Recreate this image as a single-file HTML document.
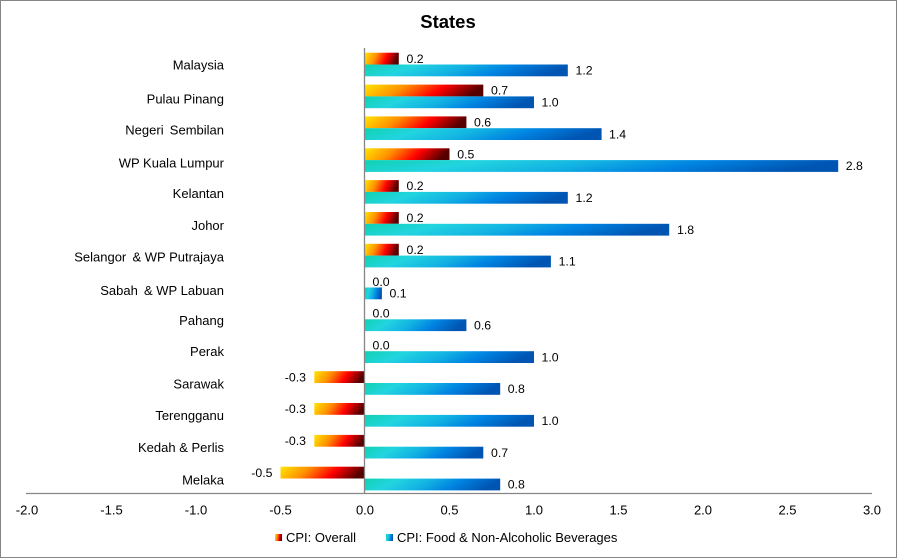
<!DOCTYPE html>
<html>
<head>
<meta charset="utf-8">
<style>
html,body{margin:0;padding:0;background:#fff;}
svg{display:block;}
text{font-family:"Liberation Sans",Arial,sans-serif;fill:#000;white-space:pre;}
</style>
</head>
<body>
<svg width="897" height="558" viewBox="0 0 897 558" xmlns="http://www.w3.org/2000/svg">
<defs>
<linearGradient id="gO" x1="0" y1="0" x2="1" y2="0.15">
<stop offset="0" stop-color="#ffe600"/>
<stop offset="0.35" stop-color="#ff9000"/>
<stop offset="0.68" stop-color="#ff0000"/>
<stop offset="1" stop-color="#560000"/>
</linearGradient>
<linearGradient id="gF" x1="0" y1="0" x2="1" y2="0.15">
<stop offset="0" stop-color="#10d2b2"/>
<stop offset="0.25" stop-color="#22d4e0"/>
<stop offset="0.5" stop-color="#12b2e2"/>
<stop offset="0.72" stop-color="#0084e2"/>
<stop offset="1" stop-color="#0054b2"/>
</linearGradient>
</defs>
<rect x="0.5" y="0.5" width="896" height="557" fill="#fff" stroke="#868686" stroke-width="1"/>
<text x="448" y="28" font-size="18.5" font-weight="bold" text-anchor="middle">States</text>

<!-- category labels -->
<g font-size="13" text-anchor="end">
<text x="224" y="69.5">Malaysia</text>
<text x="224" y="103.5">Pulau Pinang</text>
<text x="224" y="134.5" xml:space="preserve">Negeri &#8201;Sembilan</text>
<text x="224" y="167.5">WP Kuala Lumpur</text>
<text x="224" y="197.8">Kelantan</text>
<text x="224" y="230">Johor</text>
<text x="224" y="261.5" xml:space="preserve">Selangor &#8201;&amp; WP Putrajaya</text>
<text x="224" y="295" xml:space="preserve">Sabah &#8201;&amp; WP Labuan</text>
<text x="224" y="325">Pahang</text>
<text x="224" y="356">Perak</text>
<text x="224" y="388.5">Sarawak</text>
<text x="224" y="420">Terengganu</text>
<text x="224" y="452">Kedah &amp; Perlis</text>
<text x="224" y="484.5">Melaka</text>
</g>

<!-- bars: overall -->
<g fill="url(#gO)">
<rect x="365" y="52.7" width="33.8" height="11.8"/>
<rect x="365" y="84.6" width="118.3" height="11.8"/>
<rect x="365" y="116.4" width="101.4" height="11.8"/>
<rect x="365" y="148.3" width="84.5" height="11.8"/>
<rect x="365" y="180.1" width="33.8" height="11.8"/>
<rect x="365" y="212" width="33.8" height="11.8"/>
<rect x="365" y="243.8" width="33.8" height="11.8"/>
<rect x="314.3" y="371.2" width="50.7" height="11.8"/>
<rect x="314.3" y="403" width="50.7" height="11.8"/>
<rect x="314.3" y="434.9" width="50.7" height="11.8"/>
<rect x="280.5" y="466.7" width="84.5" height="11.8"/>
</g>
<!-- bars: food -->
<g fill="url(#gF)">
<rect x="365" y="64.5" width="202.8" height="11.8"/>
<rect x="365" y="96.4" width="169" height="11.8"/>
<rect x="365" y="128.2" width="236.6" height="11.8"/>
<rect x="365" y="160.1" width="473.2" height="11.8"/>
<rect x="365" y="191.9" width="202.8" height="11.8"/>
<rect x="365" y="223.8" width="304.2" height="11.8"/>
<rect x="365" y="255.6" width="185.9" height="11.8"/>
<rect x="365" y="287.5" width="16.9" height="11.8"/>
<rect x="365" y="319.3" width="101.4" height="11.8"/>
<rect x="365" y="351.2" width="169" height="11.8"/>
<rect x="365" y="383" width="135.2" height="11.8"/>
<rect x="365" y="414.9" width="169" height="11.8"/>
<rect x="365" y="446.7" width="118.3" height="11.8"/>
<rect x="365" y="478.6" width="135.2" height="11.8"/>
</g>

<!-- axes -->
<line x1="364.5" y1="48" x2="364.5" y2="494" stroke="#868686" stroke-width="1.3"/>
<line x1="26" y1="493.5" x2="872" y2="493.5" stroke="#868686" stroke-width="1.3"/>

<!-- data labels overall -->
<g font-size="12.3">
<text x="406.5" y="62.8">0.2</text>
<text x="491" y="94.7">0.7</text>
<text x="474" y="126.5">0.6</text>
<text x="457.2" y="158.4">0.5</text>
<text x="406.5" y="190.2">0.2</text>
<text x="406.5" y="222.1">0.2</text>
<text x="406.5" y="253.9">0.2</text>
<text x="372.5" y="285.8">0.0</text>
<text x="372.5" y="317.6">0.0</text>
<text x="372.5" y="349.5">0.0</text>
<text x="306" y="381.3" text-anchor="end">-0.3</text>
<text x="306" y="413.2" text-anchor="end">-0.3</text>
<text x="306" y="445" text-anchor="end">-0.3</text>
<text x="272.5" y="476.9" text-anchor="end">-0.5</text>
</g>
<!-- data labels food -->
<g font-size="12.3">
<text x="575.5" y="74.6">1.2</text>
<text x="541.5" y="106.5">1.0</text>
<text x="609" y="138.3">1.4</text>
<text x="845.8" y="170.2">2.8</text>
<text x="575.5" y="202">1.2</text>
<text x="677" y="233.9">1.8</text>
<text x="558.6" y="265.7">1.1</text>
<text x="389.5" y="297.6">0.1</text>
<text x="474" y="329.4">0.6</text>
<text x="541.5" y="361.3">1.0</text>
<text x="507.7" y="393.1">0.8</text>
<text x="541.5" y="425">1.0</text>
<text x="491" y="456.8">0.7</text>
<text x="507.7" y="488.7">0.8</text>
</g>

<!-- x tick labels -->
<g font-size="13" text-anchor="middle">
<text x="27" y="514.5">-2.0</text>
<text x="111.5" y="514.5">-1.5</text>
<text x="196" y="514.5">-1.0</text>
<text x="280.5" y="514.5">-0.5</text>
<text x="365" y="514.5">0.0</text>
<text x="449.5" y="514.5">0.5</text>
<text x="534" y="514.5">1.0</text>
<text x="618.5" y="514.5">1.5</text>
<text x="703" y="514.5">2.0</text>
<text x="787.5" y="514.5">2.5</text>
<text x="872" y="514.5">3.0</text>
</g>

<!-- legend -->
<rect x="275" y="534" width="7" height="7" fill="url(#gO)"/>
<text x="286" y="542" font-size="13">CPI: Overall</text>
<rect x="386" y="534" width="7" height="7" fill="url(#gF)"/>
<text x="397" y="542" font-size="13">CPI: Food &amp; Non-Alcoholic Beverages</text>
</svg>
</body>
</html>
